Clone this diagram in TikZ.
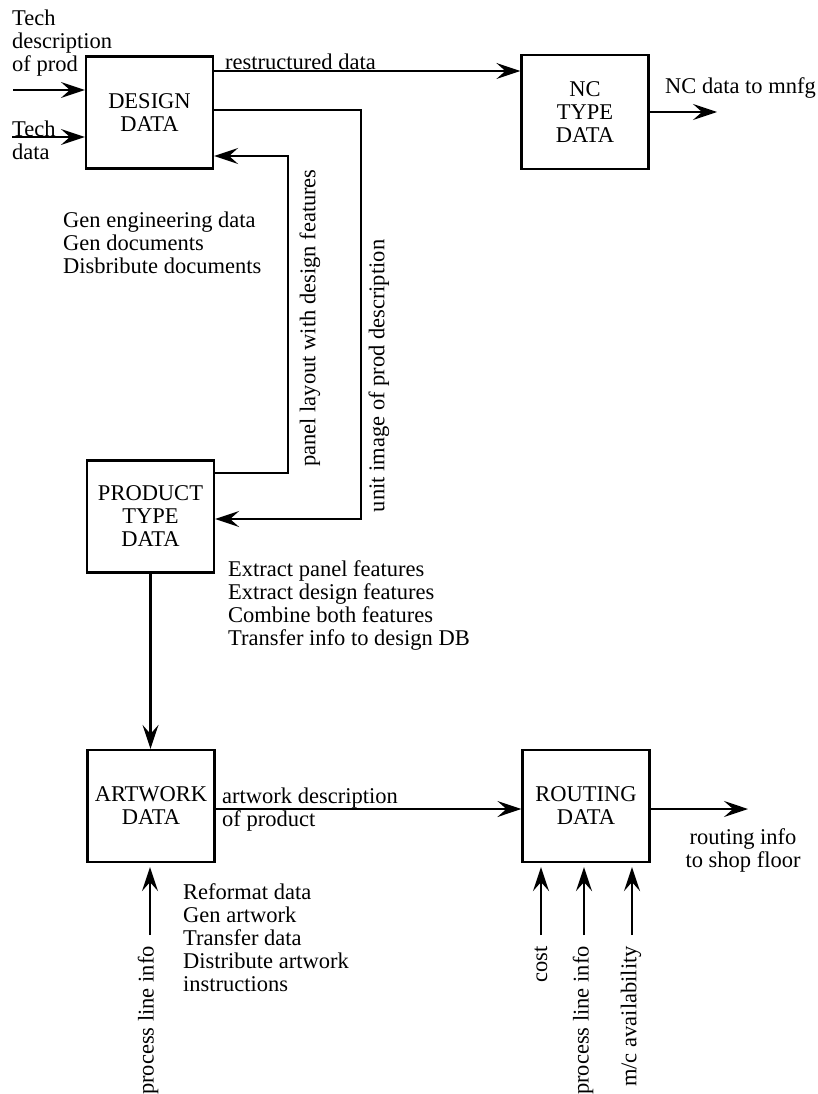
\documentclass[tikz,border=0pt]{standalone}
\usepackage{fontspec}
\setmainfont{Liberation Serif}
\usetikzlibrary{arrows.meta}
\begin{document}
\begin{tikzpicture}[x=1pt,y=-1pt,
  every node/.style={font=\fontsize{22.5}{23}\selectfont, inner sep=0pt},
  databox/.style={draw, line width=2.2pt, minimum width=127pt, minimum height=112pt, align=center},
  flow/.style={line width=2.2pt, -{Stealth[length=24pt,width=16pt,inset=9pt]}},
  lbl/.style={align=left, anchor=west},
  vlbl/.style={rotate=90}]
\useasboundingbox (0,0) rectangle (817,1094);

% data stores
\node[databox] (design) at (149.5,112.5) {DESIGN\\DATA};
\node[databox, minimum height=114pt] (nc) at (585,112) {NC\\TYPE\\DATA};
\node[databox] (product) at (150.5,516.5) {PRODUCT\\TYPE\\DATA};
\node[databox] (artwork) at (151,806) {ARTWORK\\DATA};
\node[databox] (routing) at (586,806) {ROUTING\\DATA};

% free ends and routing levels
\coordinate (tdin) at (13,90);
\coordinate (tin) at (12,137);
\coordinate (yr) at (0,71);
\coordinate (ncout) at (717,112);
\coordinate (yu) at (0,110);
\coordinate (xu) at (361,0);
\coordinate (yuin) at (0,519);
\coordinate (yp) at (0,473);
\coordinate (xp) at (288,0);
\coordinate (ypin) at (0,156);
\coordinate (yaw) at (0,809);
\coordinate (rout) at (748,809);
\coordinate (ain) at (150,935);
\coordinate (cin) at (541,935);
\coordinate (pin) at (584,935);
\coordinate (min) at (632,935);

% flows
\draw[flow] (tdin) -- (tdin -| design.west);
\draw[flow] (tin) -- (tin -| design.west);
\draw[flow] (design.east |- yr) -- (nc.west |- yr);
\draw[flow] (nc.east) -- (ncout);
\draw[flow] (design.east |- yu) -- (xu |- yu) -- (xu |- yuin) -- (product.east |- yuin);
\draw[flow] (product.east |- yp) -- (xp |- yp) -- (xp |- ypin) -- (design.east |- ypin);
\draw[flow] (product.south) -- (product.south |- artwork.north);
\draw[flow] (artwork.east |- yaw) -- (routing.west |- yaw);
\draw[flow] (routing.east |- yaw) -- (rout);
\draw[flow, shorten >=4pt] (ain) -- (ain |- artwork.south);
\draw[flow, shorten >=4pt] (cin) -- (cin |- routing.south);
\draw[flow, shorten >=4pt] (pin) -- (pin |- routing.south);
\draw[flow, shorten >=4pt] (min) -- (min |- routing.south);

% labels
\node[lbl] (techdesc) at (12,43) {Tech\\description\\of prod};
\node[lbl] (techdata) at (12,140.5) {Tech\\data};
\node[anchor=base west] (restr) at (225,70) {restructured data};
\node[lbl] (ncl) at (665,88) {NC data to mnfg};
\node[lbl] (genl) at (63,243) {Gen engineering data\\Gen documents\\Disbribute documents};
\node[vlbl] (panl) at (310,318) {panel layout with design features};
\node[vlbl] (unitl) at (379,376) {unit image of prod description};
\node[lbl] (extl) at (228,605) {Extract panel features\\Extract design features\\Combine both features\\Transfer info to design DB};
\node[lbl] (awl) at (222,810) {artwork description\\of product};
\node[align=center] (routl) at (743,850) {routing info\\to shop floor};
\node[lbl] (refl) at (183,937.5) {Reformat data\\Gen artwork\\Transfer data\\Distribute artwork\\instructions};
\node[vlbl, anchor=east] (apl) at (148,946) {process line info};
\node[vlbl, anchor=east] (costl) at (541,946) {cost};
\node[vlbl, anchor=east] (rpl) at (583,946) {process line info};
\node[vlbl, anchor=east] (mcl) at (631,946) {m/c availability};
\end{tikzpicture}
\end{document}
